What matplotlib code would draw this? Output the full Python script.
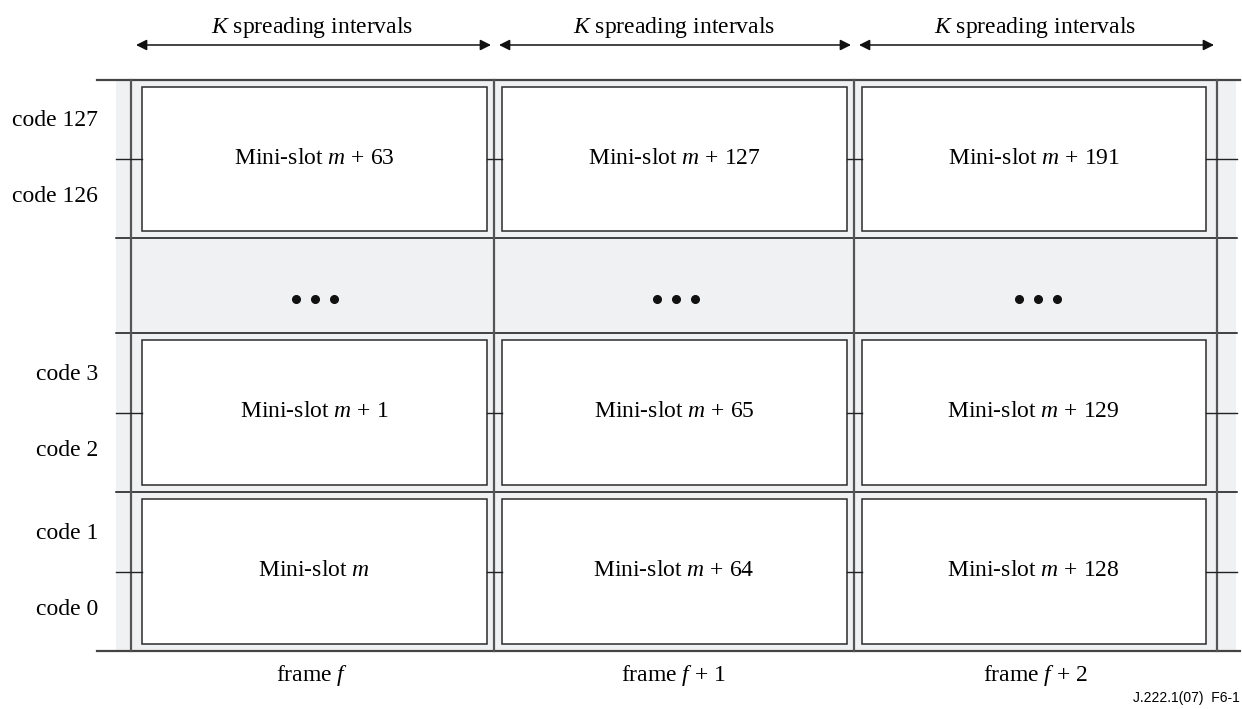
import matplotlib
matplotlib.use('Agg')
import matplotlib.pyplot as plt
from matplotlib.patches import Rectangle

plt.rcParams['font.family'] = ['Liberation Serif', 'DejaVu Serif']
plt.rcParams['mathtext.fontset'] = 'custom'
plt.rcParams['mathtext.rm'] = 'Liberation Serif'
plt.rcParams['mathtext.it'] = 'Liberation Serif:italic'

# labels of the diagram
header = '$K$ spreading intervals'
frames = ['frame $f$', 'frame $f$ + 1', 'frame $f$ + 2']
row_codes = [('code 127', 'code 126'), None, ('code 3', 'code 2'), ('code 1', 'code 0')]
row_slots = [['Mini-slot $m$ + 63', 'Mini-slot $m$ + 127', 'Mini-slot $m$ + 191'],
             None,
             ['Mini-slot $m$ + 1', 'Mini-slot $m$ + 65', 'Mini-slot $m$ + 129'],
             ['Mini-slot $m$', 'Mini-slot $m$ + 64', 'Mini-slot $m$ + 128']]
footer = 'J.222.1(07)  F6-1'

# layout (pixel grid)
col_lines = [131, 494, 854, 1217]
row_lines = [80, 238, 333, 492, 651]
gray = '#f0f1f3'
fs = 17

fig = plt.figure(figsize=(12.42, 7.09), dpi=100)
ax = fig.add_axes([0, 0, 1, 1])
ax.set_xlim(0, 1242)
ax.set_ylim(709, 0)
ax.axis('off')

# gray background
ax.add_patch(Rectangle((116, row_lines[0]), 1236 - 116, row_lines[-1] - row_lines[0],
                       facecolor=gray, edgecolor='none', zorder=0))

# outer top / bottom lines
ax.plot([97, 1240], [row_lines[0]] * 2, color='#444444', lw=1.6, zorder=3)
ax.plot([97, 1240], [row_lines[-1]] * 2, color='#444444', lw=1.6, zorder=3)
# inner row separators
for y in row_lines[1:-1]:
    ax.plot([116, 1237], [y, y], color='#111111', lw=1.1, zorder=3)
# vertical column lines
for x in col_lines:
    ax.plot([x, x], [row_lines[0], row_lines[-1]], color='#555555', lw=1.6, zorder=3)

ncol = len(col_lines) - 1
for r in range(len(row_lines) - 1):
    y0, y1 = row_lines[r], row_lines[r + 1]
    yc = (y0 + y1) / 2
    if row_slots[r] is None:
        # ellipsis row
        for c in range(ncol):
            xc = (col_lines[c] + col_lines[c + 1]) / 2 + 2
            ax.plot([xc - 19, xc, xc + 19], [299] * 3, 'o', color='#111111',
                    ms=5.5, zorder=4)
        continue
    lefts, rights = [], []
    for c in range(ncol):
        l = col_lines[c] + (11 if c == 0 else 7.5)
        rr = col_lines[c + 1] - (11 if c == ncol - 1 else 7.5)
        lefts.append(l)
        rights.append(rr)
        ax.add_patch(Rectangle((l, y0 + 7), rr - l, (y1 - y0) - 14, facecolor='white',
                               edgecolor='#2b2b2b', lw=1.1, zorder=2))
        ax.text((l + rr) / 2, yc - 1, row_slots[r][c], ha='center', va='center',
                fontsize=fs, zorder=5)
    # mid-row ticks
    ax.plot([116, lefts[0]], [yc, yc], color='#222222', lw=1.0, zorder=3)
    for c in range(ncol - 1):
        ax.plot([rights[c], lefts[c + 1]], [yc, yc], color='#222222', lw=1.0, zorder=3)
    ax.plot([rights[-1], 1237], [yc, yc], color='#222222', lw=1.0, zorder=3)
    # code labels
    ax.text(98, yc - 38, row_codes[r][0], ha='right', va='center', fontsize=fs)
    ax.text(98, yc + 38, row_codes[r][1], ha='right', va='center', fontsize=fs)

# header arrows
for c in range(ncol):
    l, rr = col_lines[c] + 5, col_lines[c + 1] - 3
    ax.annotate('', xy=(l, 45), xytext=(rr, 45),
                arrowprops=dict(arrowstyle='<|-|>', color='#111111', lw=1.1,
                                mutation_scale=16, shrinkA=0, shrinkB=0))
    ax.text((col_lines[c] + col_lines[c + 1]) / 2, 28, header, ha='center',
            va='center', fontsize=fs)
    ax.text((col_lines[c] + col_lines[c + 1]) / 2, 676, frames[c], ha='center',
            va='center', fontsize=fs)

ax.text(1240, 698, footer, ha='right', va='center', fontsize=10,
        family=['Liberation Sans', 'DejaVu Sans'])

fig.savefig('out.png', dpi=100)
